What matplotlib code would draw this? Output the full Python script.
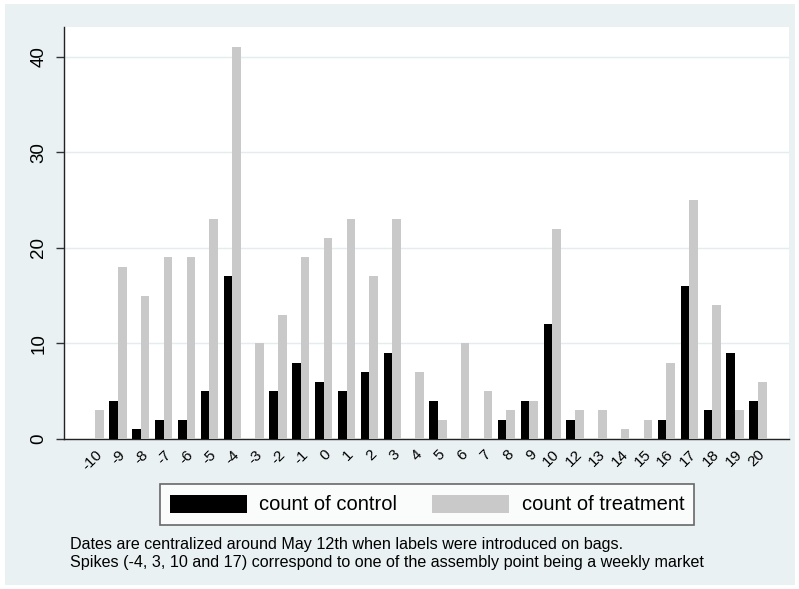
import matplotlib
matplotlib.use("Agg")
import matplotlib.pyplot as plt
from matplotlib.patches import Rectangle, Patch
import numpy as np

categories = ["-10", "-9", "-8", "-7", "-6", "-5", "-4", "-3", "-2", "-1", "0", "1", "2", "3",
              "4", "5", "6", "7", "8", "9", "10", "12", "13", "14", "15", "16", "17", "18", "19", "20"]
control = [0, 4, 1, 2, 2, 5, 17, 0, 5, 8, 6, 5, 7, 9, 0, 4, 0, 0, 2, 4, 12, 2, 0, 0, 0, 2, 16, 3, 9, 4]
treatment = [3, 18, 15, 19, 19, 23, 41, 10, 13, 19, 21, 23, 17, 23, 7, 2, 10, 5, 3, 4, 22, 3, 3, 1, 2, 8, 25, 14, 3, 6]
yticks = [0, 10, 20, 30, 40]
legend_labels = ["count of control", "count of treatment"]
note_lines = ["Dates are centralized around May 12th when labels were introduced on bags.",
              "Spikes (-4, 3, 10 and 17) correspond to one of the assembly point being a weekly market"]

plt.rcParams["font.family"] = ["Liberation Sans", "DejaVu Sans"]

W, H = 799, 589
fig = plt.figure(figsize=(W / 100, H / 100), dpi=100)
fig.patch.set_facecolor("white")
bg = "#e9f1f3"
fig.patches.append(Rectangle((5 / W, 4 / H), (W - 9) / W, (H - 8) / H,
                             transform=fig.transFigure, facecolor=bg, edgecolor="none", zorder=-10))

left, right, top, bottom = 64, 789, 27, 439
ax = fig.add_axes([left / W, (H - bottom) / H, (right - left) / W, (bottom - top) / H])
ax.set_zorder(1)
ax.set_facecolor("white")

x = np.arange(len(categories))
bw = 0.38
ax.bar(x - bw / 2, control, width=bw, color="black", zorder=3, linewidth=0)
ax.bar(x + bw / 2, treatment, width=bw, color="#c9c9c9", zorder=3, linewidth=0)

ax.set_xlim(-1.36, len(categories) - 1 + 1.36)
ax.set_ylim(0, 43.1)
ax.set_yticks(yticks)
ax.set_yticklabels([str(t) for t in yticks], rotation=90, va="center", fontsize=13.5)
ax.set_xticks(x)
ax.set_xticklabels(categories, rotation=45, ha="right", rotation_mode="anchor", fontsize=11)
ax.tick_params(axis="x", length=0, pad=6)
ax.tick_params(axis="y", length=6, width=1, pad=6, color="#333333")
ax.grid(axis="y", color="#e3ecef", linewidth=1, zorder=0)
for s in ["top", "right"]:
    ax.spines[s].set_visible(False)
for s in ["left", "bottom"]:
    ax.spines[s].set_color("#222222")
    ax.spines[s].set_linewidth(1)

handles = [Patch(facecolor="black", edgecolor="none"), Patch(facecolor="#c9c9c9", edgecolor="none")]
leg = fig.legend(handles, legend_labels, ncol=2, loc="center",
                 bbox_to_anchor=(427 / W, 1 - 504.5 / H), fontsize=14.5,
                 frameon=True, fancybox=False, edgecolor="#444444",
                 handlelength=3.83, handleheight=1.0, columnspacing=1.75,
                 handletextpad=0.6, borderpad=0.5, borderaxespad=0)
leg.get_frame().set_linewidth(1.2)
leg.get_frame().set_facecolor("white")

fig.text(70 / W, 1 - 545 / H, note_lines[0], fontsize=11.6, va="center")
fig.text(70 / W, 1 - 562 / H, note_lines[1], fontsize=11.6, va="center")

fig.savefig("out.png", dpi=100)
